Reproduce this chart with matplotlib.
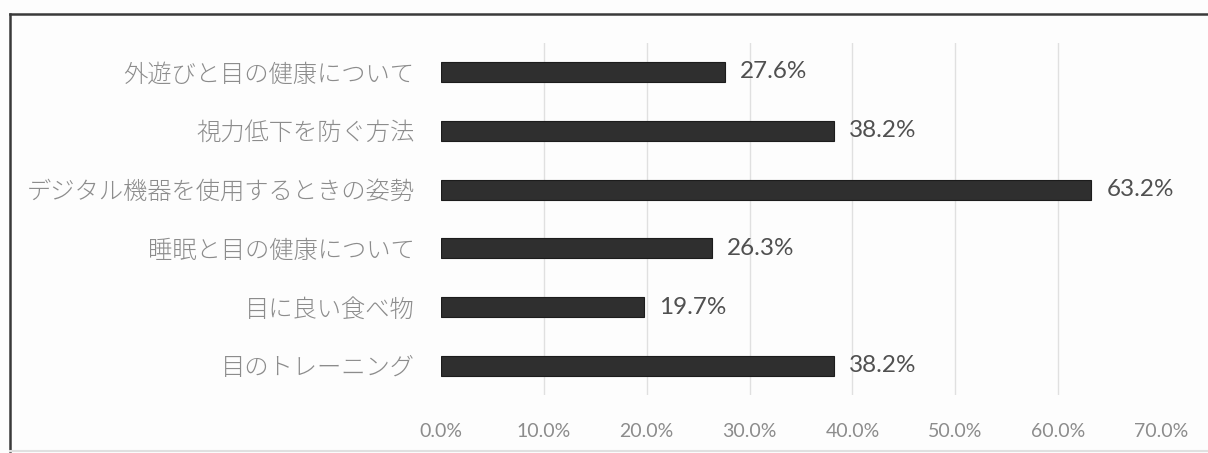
import matplotlib.pyplot as plt
from matplotlib.lines import Line2D
from matplotlib.ticker import FuncFormatter

plt.rcParams['font.family'] = ['Lato', 'Noto Sans CJK JP', 'DejaVu Sans']

topics = [
    "外遊びと目の健康について",
    "視力低下を防ぐ方法",
    "デジタル機器を使用するときの姿勢",
    "睡眠と目の健康について",
    "目に良い食べ物",
    "目のトレーニング",
]
shares = [27.6, 38.2, 63.2, 26.3, 19.7, 38.2]
x_ticks = [0, 10, 20, 30, 40, 50, 60, 70]

fig = plt.figure(figsize=(12.08, 4.53), dpi=100)
fig.patch.set_facecolor('#fdfdfd')
ax = fig.add_axes([0.3651, 0.1272, 0.596, 0.7788])
ax.set_facecolor('#fdfdfd')

y = range(len(topics))
ax.barh(y, shares, height=0.34, color='#2f2f2f', edgecolor='#1c1c1c',
        linewidth=0.8, zorder=3)

for yi, v in zip(y, shares):
    ax.annotate("{:.1f}%".format(v), (v, yi), xytext=(11, 0),
                textcoords='offset points', va='center', ha='left',
                fontsize=17.5, color='#505050')

ax.set_xlim(0, 70)
ax.set_ylim(-0.5, len(topics) - 0.5)
ax.invert_yaxis()
ax.set_xticks(x_ticks)
ax.xaxis.set_major_formatter(FuncFormatter(lambda v, _: "{:.1f}%".format(v)))
ax.set_yticks(list(y))
ax.set_yticklabels(topics, fontsize=17.5, color='#8c8c8c',
                   family=['Noto Sans CJK JP', 'DejaVu Sans'], fontweight='light')
for lbl in ax.get_xticklabels():
    lbl.set_fontsize(14)
    lbl.set_color('#8c8c8c')
ax.tick_params(axis='x', length=0, pad=20)
ax.tick_params(axis='y', length=0, pad=19)

for t in x_ticks[1:-1]:
    ax.axvline(t, color='#e0e0e0', linewidth=1, zorder=1)
for s in ax.spines.values():
    s.set_visible(False)

# frame around the chart
fig.add_artist(Line2D([0.0083, 0.0083], [0.004, 0.969], color='#3a3a3a', linewidth=1.8))
fig.add_artist(Line2D([0.0083, 1.0], [0.969, 0.969], color='#3a3a3a', linewidth=1.8))
fig.add_artist(Line2D([0.0083, 1.0], [0.004, 0.004], color='#e0e0e0', linewidth=1.5))

fig.savefig('out.png', dpi=100, facecolor=fig.get_facecolor())
